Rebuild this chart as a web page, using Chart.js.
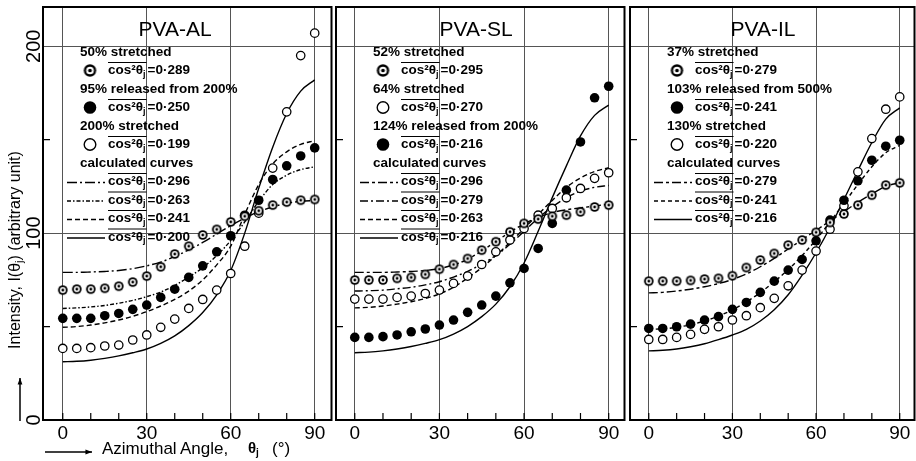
<!DOCTYPE html>
<html>
<head>
<meta charset="utf-8">
<script src="https://cdn.jsdelivr.net/npm/chart.js@4.4.1/dist/chart.umd.min.js"></script>
<style>
html, body { margin: 0; padding: 0; background: #fff; overflow: hidden; width: 916px; height: 461px; }
.panel { position: absolute; top: 0; height: 461px; }
</style>
</head>
<body>
<div class="panel" style="left:0px;width:337px"><canvas id="al" width="337" height="461"></canvas></div>
<div class="panel" style="left:326px;width:304px"><canvas id="sl" width="304" height="461"></canvas></div>
<div class="panel" style="left:620px;width:300px"><canvas id="il" width="300" height="461"></canvas></div>
<script>
var angles = [0,5,10,15,20,25,30,35,40,45,50,55,60,65,70,75,80,85,90];
var xTicks = [0,10,20,30,40,50,60,70,80,90];
var yTicks = [0,50,100,150,200];

// PVA-AL
var alNames = ['50% stretched', '95% released from 200%', '200% stretched'];
var alPointCos = ['0·289', '0·250', '0·199'];
var alDouble = [69.5,70,70,70.5,71.6,73.8,77,82,88.8,93,99,102,106,109,112,115,116.6,117.6,118];
var alFilled = [54.4,54.4,54.4,55.8,57,59.2,61.5,65.6,70,76.3,82.5,90,98.6,109.6,117.6,128.7,136,141.3,145.6];
var alOpen = [38.3,38.3,38.7,39.6,40.1,42.8,45.5,49.6,54,59.7,64.5,69.5,78.4,93,110.7,134.8,164.9,195,207];
var alCurveCos = ['0·296', '0·263', '0·241', '0·200'];
var alC296 = [79,79,79.2,79.5,80,81,82.5,84.5,87.5,91,95,99.5,104,108,111.5,114,116,117,117.5];
var alC263 = [59.7,60,60.5,61.3,62.5,64,66,68.5,72,76.5,81.5,88,96,106,117,126,131,134,135.5];
var alC241 = [49.6,50,50.8,52,53.5,55.5,58,61,64.5,69,75,83,93,110,126,137,143.5,147.5,149.5];
var alC200 = [31.2,31.4,32,33,34.3,36,38,41,45,50.5,57.5,67,80,100,124,146,164,176,182];

// PVA-SL
var slNames = ['52% stretched', '64% stretched', '124% released from 200%'];
var slPointCos = ['0·295', '0·270', '0·216'];
var slDouble = [74.9,74.9,74.9,75.8,76.3,77.9,80.7,83.2,86.4,90.9,95.4,100.7,105.2,107.5,109,109.6,111.4,114,115];
var slOpen = [64.7,64.7,64.7,65.6,66.3,67.7,69.5,73.1,77,83.2,90,96.3,102.5,109.6,113.2,118.9,123.9,129.3,132.3];
var slFilled = [44.2,44.2,44.6,45.5,47.2,48.7,50.8,53.5,57.6,61.5,66.3,73.4,81.1,91.8,105.2,123,148.8,172.4,178.6];
var slCurveCos = ['0·296', '0·279', '0·263', '0·216'];
var slC296 = [79,79,79,79.2,79.5,80,81,83,86,90.5,95.5,100.5,105,108.5,111,112.5,113.5,114.5,115.5];
var slC279 = [69,69.2,69.5,70.2,71,72.3,74,76.5,79.5,83.5,88,94,101,108,114,119,122.5,124.5,125.5];
var slC263 = [60,60.3,61,62,63.3,65,67.5,71,76,81.5,88,95,102.5,110,117.5,124.5,129.5,133,135];
var slC216 = [36,36.3,37,38,39.3,41,43,46,50,55.3,62,71.3,84,101,119,136,152,163,168.5];

// PVA-IL
var ilNames = ['37% stretched', '103% released from 500%', '130% stretched'];
var ilPointCos = ['0·279', '0·241', '0·220'];
var ilDouble = [74.3,74.3,74.3,74.7,75.4,75.8,77.2,81.6,85.6,89.1,93.6,96.3,100.4,105.7,110.2,115,120.3,125.7,126.9];
var ilFilled = [49,49,49.9,51.3,53.5,55.3,59.2,62.9,68.3,74.3,80.2,85.9,95.9,107,117.6,128,139,146.5,149.7];
var ilOpen = [43.1,43.1,44.2,45.8,48.5,49.9,53.5,55.8,60.1,65.1,71.8,80.2,90.4,102.1,114.6,132.8,150.6,166.3,172.9];
var ilCurveCos = ['0·279', '0·241', '0·216'];
var ilC279 = [68,68.3,69,70,71.3,73,75.2,78.2,82,86.5,91.5,96.5,101.5,106.5,111.5,116.5,121,125,127];
var ilC241 = [48.5,48.8,49.6,51,53,55.6,59,63.2,68.2,74,80.5,88,96.5,106,116,126,135.5,143,147];
var ilC216 = [37,37.3,38,39.2,40.8,43,45.5,48.5,53,59,67,77.5,89.5,103,118,133.5,148.5,161,167];

var FONT = '"Liberation Sans", Arial, sans-serif';
var gridColor = '#555';

function ringImage(r) {
    var c = document.createElement('canvas');
    var s = Math.ceil(r * 2 + 2);
    c.width = s; c.height = s;
    var g = c.getContext('2d');
    var m = s / 2;
    g.fillStyle = '#000'; g.beginPath(); g.arc(m, m, r, 0, Math.PI * 2); g.fill();
    g.fillStyle = '#fff'; g.beginPath(); g.arc(m, m, r * 0.62, 0, Math.PI * 2); g.fill();
    g.fillStyle = '#000'; g.beginPath(); g.arc(m, m, r * 0.3, 0, Math.PI * 2); g.fill();
    return c;
}
var ringSmall = ringImage(4.8);
var ringBig = ringImage(6.2);

function pts(vals) {
    return vals.map(function (v, i) { return { x: angles[i], y: v }; });
}

function pointSet(vals, kind) {
    var ds = { data: pts(vals), showLine: false, order: 1, borderColor: '#000' };
    if (kind === 'double') {
        ds.pointStyle = ringSmall;
    } else if (kind === 'filled') {
        ds.pointRadius = 4.8; ds.backgroundColor = '#000'; ds.pointBorderWidth = 0;
    } else {
        ds.pointRadius = 4.2; ds.backgroundColor = '#fff'; ds.pointBorderWidth = 1.3;
    }
    return ds;
}

function curveSet(vals, dash) {
    return {
        data: pts(vals), pointRadius: 0, borderColor: '#000', borderWidth: 1.4,
        borderDash: dash, cubicInterpolationMode: 'monotone', order: 2, fill: false
    };
}

function legendRows(names, pointCos, kinds, curveCos, dashes) {
    var rows = [];
    names.forEach(function (n, i) {
        rows.push({ text: n });
        rows.push({ sym: kinds[i], cos: pointCos[i] });
    });
    rows.push({ text: 'calculated curves' });
    curveCos.forEach(function (c, i) { rows.push({ dash: dashes[i], cos: c }); });
    return rows;
}

var LEG = 'bold 13.5px ' + FONT;

function drawCos(ctx, x, y, val) {
    ctx.textAlign = 'left'; ctx.textBaseline = 'middle';
    ctx.font = LEG;
    ctx.fillText('cos²θ', x, y);
    var w = ctx.measureText('cos²θ').width;
    ctx.font = 'bold 9px ' + FONT;
    ctx.fillText('j', x + w, y + 4);
    var x2 = x + w + ctx.measureText('j').width + 1;
    ctx.lineWidth = 1; ctx.setLineDash([]);
    ctx.beginPath(); ctx.moveTo(x, y - 8); ctx.lineTo(x2, y - 8); ctx.stroke();
    ctx.font = LEG;
    ctx.fillText('=' + val, x2 + 1, y);
}

function drawArrow(ctx, x1, y1, x2, y2) {
    var ang = Math.atan2(y2 - y1, x2 - x1);
    ctx.lineWidth = 1.5; ctx.setLineDash([]);
    ctx.beginPath(); ctx.moveTo(x1, y1); ctx.lineTo(x2, y2); ctx.stroke();
    ctx.beginPath();
    ctx.moveTo(x2, y2);
    ctx.lineTo(x2 - 7 * Math.cos(ang - 0.35), y2 - 7 * Math.sin(ang - 0.35));
    ctx.lineTo(x2 - 7 * Math.cos(ang + 0.35), y2 - 7 * Math.sin(ang + 0.35));
    ctx.closePath(); ctx.fill();
}

var panelDecor = {
    id: 'panelDecor',
    afterDatasetsDraw: function (chart, args, o) {
        var ctx = chart.ctx, a = chart.chartArea, xs = chart.scales.x, ys = chart.scales.y;
        ctx.save();
        ctx.strokeStyle = '#000'; ctx.fillStyle = '#000';
        ctx.lineWidth = 2;
        ctx.strokeRect(a.left, a.top, a.right - a.left, a.bottom - a.top);

        // inner ticks
        ctx.lineWidth = 1.2;
        ctx.beginPath();
        xTicks.forEach(function (v) {
            var px = xs.getPixelForValue(v);
            ctx.moveTo(px, a.bottom); ctx.lineTo(px, a.bottom - 7);
        });
        yTicks.forEach(function (v) {
            if (v % 100 === 0) return;
            var py = ys.getPixelForValue(v);
            ctx.moveTo(a.left, py); ctx.lineTo(a.left + 7, py);
        });
        ctx.stroke();

        // panel title
        ctx.font = '21px ' + FONT;
        ctx.textAlign = 'center'; ctx.textBaseline = 'middle';
        ctx.fillText(o.title, a.left + o.titleDx, a.top + 23);

        // legend
        var L = a.left;
        o.rows.forEach(function (r, i) {
            var y = a.top + 45 + i * 18.5;
            if (r.text) {
                ctx.font = LEG;
                ctx.textAlign = 'left'; ctx.textBaseline = 'middle';
                ctx.fillText(r.text, L + 37, y);
            } else if (r.sym) {
                var cx = L + 47;
                if (r.sym === 'double') {
                    ctx.drawImage(ringBig, cx - ringBig.width / 2, y - ringBig.height / 2);
                } else if (r.sym === 'filled') {
                    ctx.beginPath(); ctx.arc(cx, y, 6.3, 0, Math.PI * 2); ctx.fill();
                } else {
                    ctx.lineWidth = 1.4;
                    ctx.beginPath(); ctx.arc(cx, y, 5.8, 0, Math.PI * 2); ctx.stroke();
                }
                drawCos(ctx, L + 65, y, r.cos);
            } else {
                ctx.lineWidth = 1.4; ctx.setLineDash(r.dash);
                ctx.beginPath(); ctx.moveTo(L + 24, y + 1); ctx.lineTo(L + 62, y + 1); ctx.stroke();
                ctx.setLineDash([]);
                drawCos(ctx, L + 65, y, r.cos);
            }
        });

        if (o.axisTitles) {
            // y title, rotated
            ctx.save();
            ctx.translate(16, 250);
            ctx.rotate(-Math.PI / 2);
            ctx.font = '16px ' + FONT;
            ctx.textAlign = 'left'; ctx.textBaseline = 'middle';
            var p1 = 'Intensity, I(θ', p3 = ') (arbitrary unit)';
            var w1 = ctx.measureText(p1).width, w3 = ctx.measureText(p3).width;
            ctx.font = '11px ' + FONT;
            var w2 = ctx.measureText('j').width;
            var sx = -(w1 + w2 + w3) / 2;
            ctx.font = '16px ' + FONT;
            ctx.fillText(p1, sx, 0);
            ctx.font = '11px ' + FONT;
            ctx.fillText('j', sx + w1, 4);
            ctx.font = '16px ' + FONT;
            ctx.fillText(p3, sx + w1 + w2, 0);
            ctx.restore();
            drawArrow(ctx, 20, 421, 20, 378);

            // x title
            drawArrow(ctx, 45, 452, 92, 452);
            ctx.font = '17px ' + FONT;
            ctx.textAlign = 'left'; ctx.textBaseline = 'middle';
            ctx.fillText('Azimuthal', 102, 449);
            ctx.fillText('Angle,', 180, 449);
            ctx.font = 'bold 15px ' + FONT;
            ctx.fillText('θ', 248, 449);
            var tw = ctx.measureText('θ').width;
            ctx.font = 'bold 10px ' + FONT;
            ctx.fillText('j', 248 + tw, 453);
            ctx.font = '17px ' + FONT;
            ctx.fillText('(°)', 272, 449);
        }
        ctx.restore();
    }
};

function makeChart(id, cfg) {
    return new Chart(document.getElementById(id), {
        type: 'line',
        data: { datasets: cfg.datasets },
        options: {
            responsive: false,
            animation: false,
            layout: { padding: { top: 7, right: 2, left: 0, bottom: 0 } },
            plugins: {
                legend: { display: false },
                tooltip: { enabled: false },
                panelDecor: { title: cfg.title, titleDx: cfg.titleDx, rows: cfg.rows, axisTitles: cfg.axisTitles }
            },
            scales: {
                x: {
                    type: 'linear', min: cfg.xMin, max: cfg.xMax,
                    afterBuildTicks: function (s) { s.ticks = xTicks.map(function (v) { return { value: v }; }); },
                    afterFit: function (s) { s.height = 41; },
                    border: { display: false },
                    grid: {
                        drawTicks: false, lineWidth: 1,
                        color: function (c) { return c.tick && c.tick.value % 30 === 0 ? gridColor : 'rgba(0,0,0,0)'; }
                    },
                    ticks: {
                        autoSkip: false, minRotation: 0, maxRotation: 0, padding: 2, color: '#000',
                        font: { family: FONT, size: 19 },
                        callback: function (v) { return v % 30 === 0 ? String(v) : ''; }
                    }
                },
                y: {
                    type: 'linear', min: 0, max: 221,
                    afterBuildTicks: function (s) { s.ticks = yTicks.map(function (v) { return { value: v }; }); },
                    afterFit: function (s) { s.width = cfg.yWidth; },
                    border: { display: false },
                    grid: {
                        drawTicks: false, lineWidth: 1,
                        color: function (c) { return c.tick && (c.tick.value === 100 || c.tick.value === 200) ? gridColor : 'rgba(0,0,0,0)'; }
                    },
                    ticks: {
                        display: cfg.yLabels, autoSkip: false, minRotation: 90, maxRotation: 90,
                        crossAlign: 'center', padding: -8, color: '#000',
                        font: { family: FONT, size: 20 },
                        callback: function (v) { return v % 100 === 0 ? String(v) : ''; }
                    }
                }
            }
        },
        plugins: [panelDecor]
    });
}

makeChart('al', {
    title: 'PVA-AL', titleDx: 132, axisTitles: true, yLabels: true, yWidth: 43,
    xMin: -7.06, xMax: 96.0,
    rows: legendRows(alNames, alPointCos, ['double', 'filled', 'open'], alCurveCos,
        [[10, 3, 2, 3], [4, 2, 1.5, 2], [5, 3], []]),
    datasets: [
        pointSet(alDouble, 'double'), pointSet(alFilled, 'filled'), pointSet(alOpen, 'open'),
        curveSet(alC296, [10, 3, 2, 3]), curveSet(alC263, [4, 2, 1.5, 2]),
        curveSet(alC241, [5, 3]), curveSet(alC200, [])
    ]
});

makeChart('sl', {
    title: 'PVA-SL', titleDx: 140, axisTitles: false, yLabels: false, yWidth: 10,
    xMin: -6.65, xMax: 95.6,
    rows: legendRows(slNames, slPointCos, ['double', 'open', 'filled'], slCurveCos,
        [[9, 3, 3, 3], [8, 3, 2, 3], [5, 3], []]),
    datasets: [
        pointSet(slDouble, 'double'), pointSet(slOpen, 'open'), pointSet(slFilled, 'filled'),
        curveSet(slC296, [9, 3, 3, 3]), curveSet(slC279, [8, 3, 2, 3]),
        curveSet(slC263, [5, 3]), curveSet(slC216, [])
    ]
});

makeChart('il', {
    title: 'PVA-IL', titleDx: 133, axisTitles: false, yLabels: false, yWidth: 10,
    xMin: -6.73, xMax: 95.3,
    rows: legendRows(ilNames, ilPointCos, ['double', 'filled', 'open'], ilCurveCos,
        [[9, 3, 3, 3], [4, 3], []]),
    datasets: [
        pointSet(ilDouble, 'double'), pointSet(ilFilled, 'filled'), pointSet(ilOpen, 'open'),
        curveSet(ilC279, [9, 3, 3, 3]), curveSet(ilC241, [4, 3]), curveSet(ilC216, [])
    ]
});
</script>
</body>
</html>
